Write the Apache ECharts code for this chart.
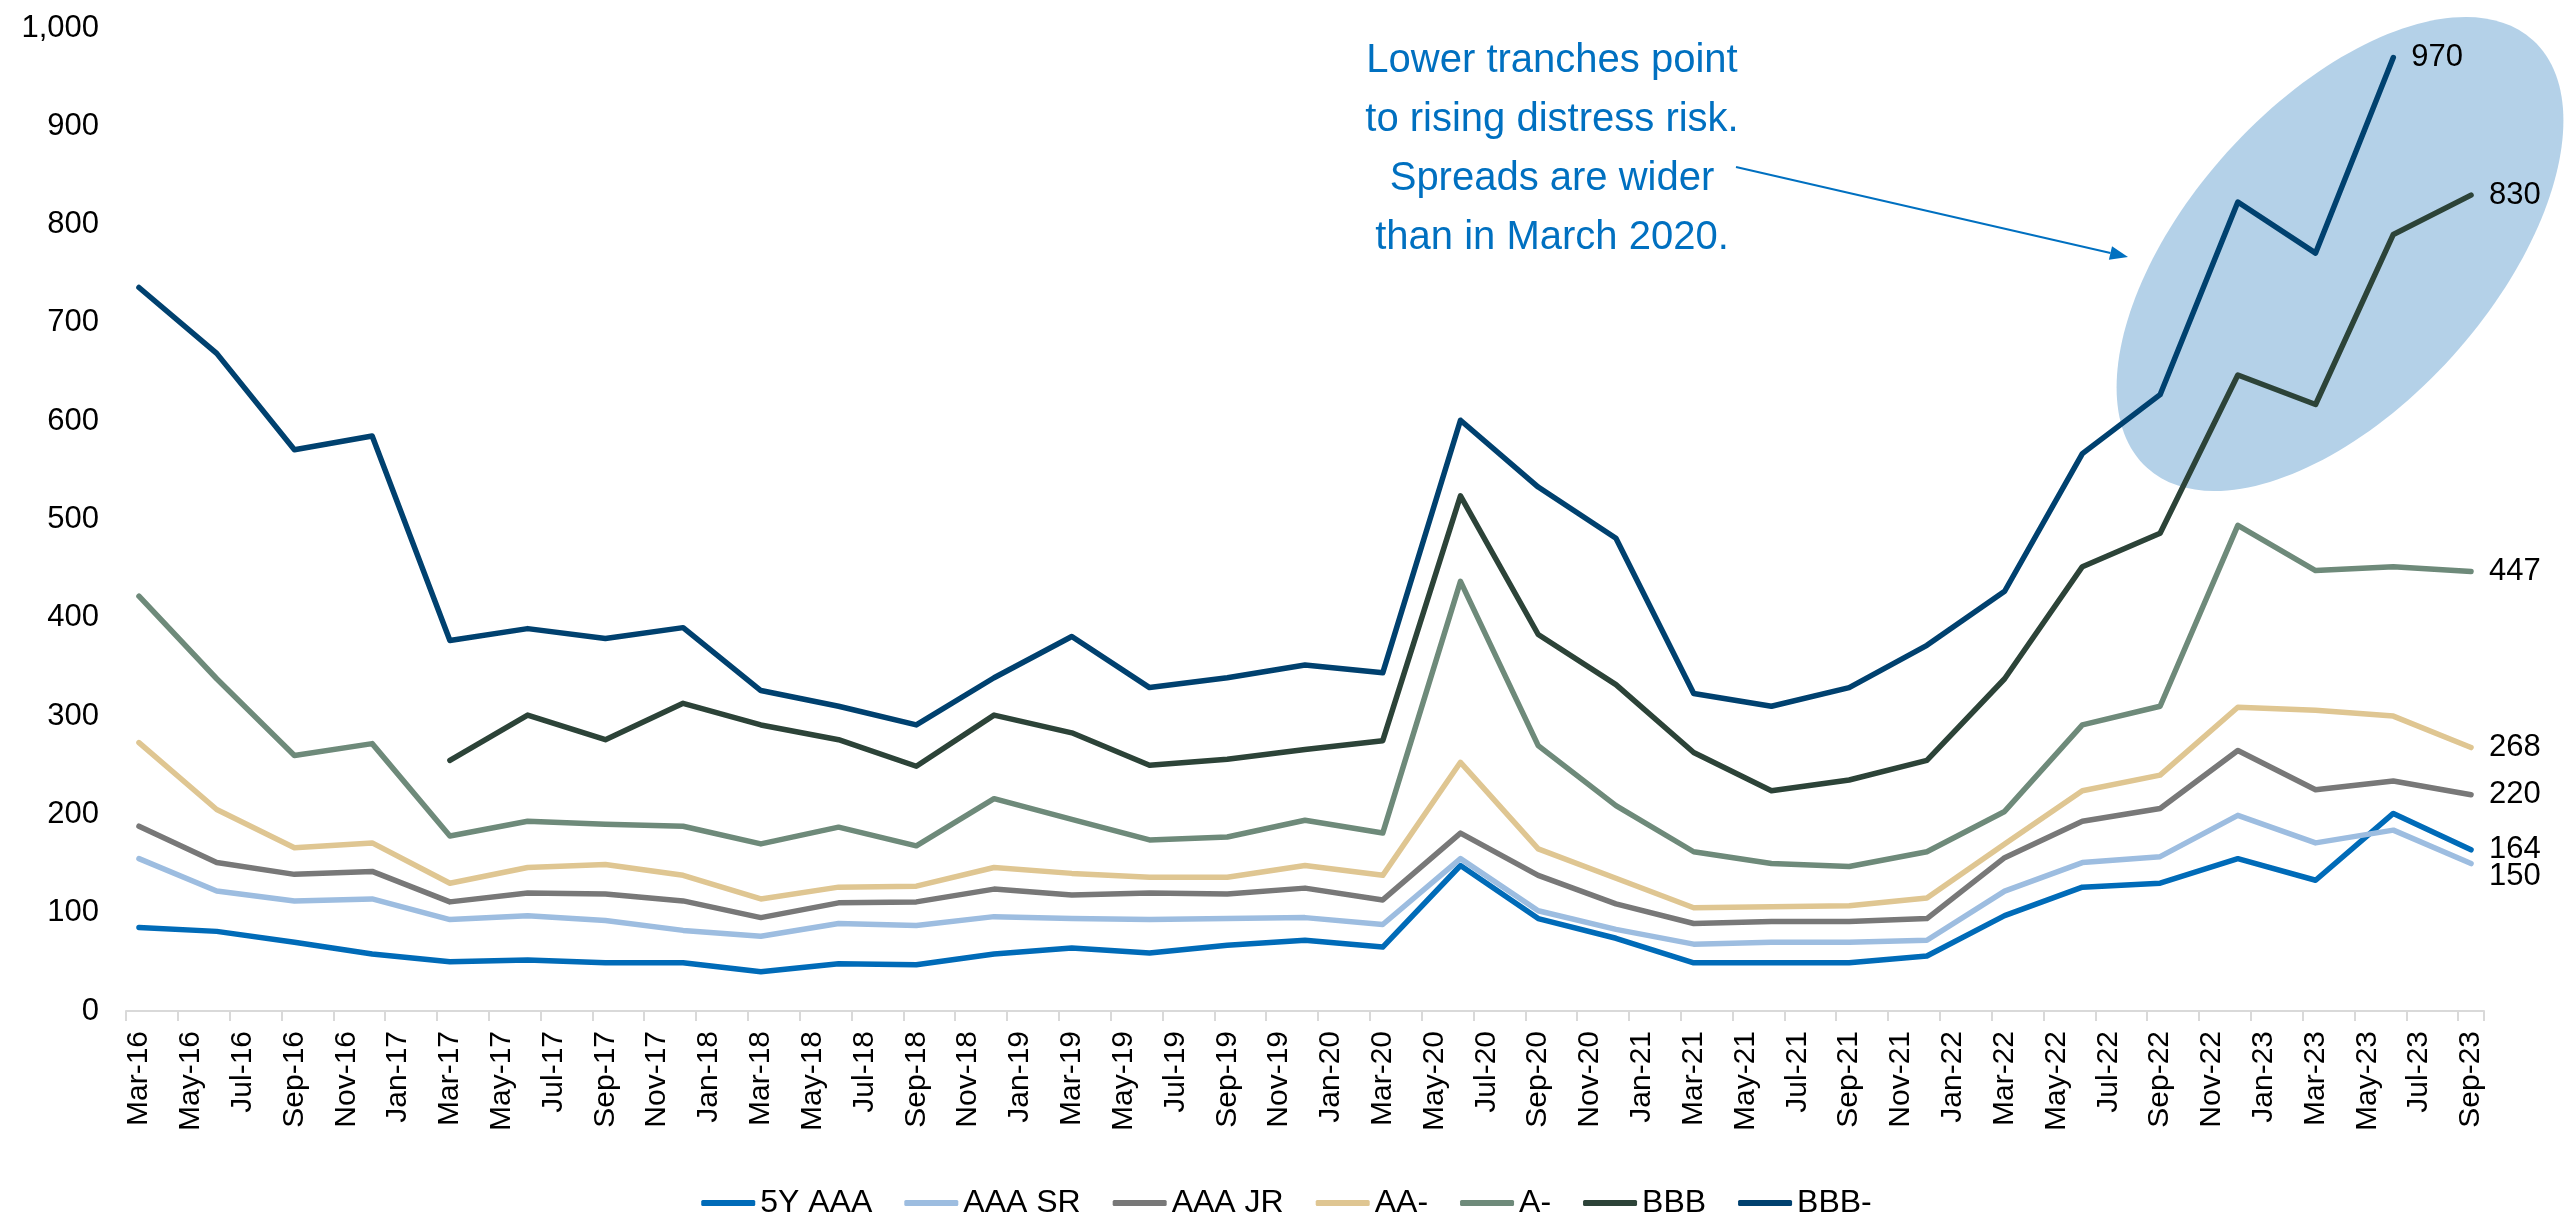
<!DOCTYPE html>
<html>
<head>
<meta charset="utf-8">
<title>CLO spreads by tranche</title>
<script src="https://cdn.jsdelivr.net/npm/echarts@6/dist/echarts.min.js"></script>
<style>
  html, body { margin: 0; padding: 0; background: #ffffff; }
  #chart { width: 2573px; height: 1215px; }
</style>
</head>
<body>
<div id="chart"></div>
<script>
// Monthly axis categories, Mar-16 .. Sep-23 (labels every second month)
const monthNames = ['Jan','Feb','Mar','Apr','May','Jun','Jul','Aug','Sep','Oct','Nov','Dec'];
const months = [];
for (let y = 2016, m = 2; y < 2023 || (y === 2023 && m <= 8); m++) {
  if (m === 12) { m = 0; y++; }
  months.push(monthNames[m] + '-' + String(y).slice(2));
}

// Quarter-end observation dates
const quarters = [
  'Mar-16','Jun-16','Sep-16','Dec-16',
  'Mar-17','Jun-17','Sep-17','Dec-17',
  'Mar-18','Jun-18','Sep-18','Dec-18',
  'Mar-19','Jun-19','Sep-19','Dec-19',
  'Mar-20','Jun-20','Sep-20','Dec-20',
  'Mar-21','Jun-21','Sep-21','Dec-21',
  'Mar-22','Jun-22','Sep-22','Dec-22',
  'Mar-23','Jun-23','Sep-23'
];

// Spreads (bp) per tranche
const aaa5y  = [85, 81, 70, 58, 50, 52, 49, 49, 40, 48, 47, 58, 64, 59, 67, 72, 65, 148, 94, 74, 49, 49, 49, 56, 97, 126, 130, 155, 133, 201, 164];
const aaaSr  = [155, 122, 112, 114, 93, 97, 92, 82, 76, 89, 87, 96, 94, 93, 94, 95, 88, 155, 102, 83, 68, 70, 70, 72, 122, 151, 157, 199, 171, 184, 150];
const aaaJr  = [188, 151, 139, 142, 111, 120, 119, 112, 95, 110, 111, 124, 118, 120, 119, 125, 113, 181, 138, 109, 89, 91, 91, 94, 156, 193, 206, 265, 225, 234, 220];
const aaMinus = [273, 205, 166, 171, 130, 146, 149, 138, 114, 126, 127, 146, 140, 136, 136, 148, 138, 253, 165, 135, 105, 106, 107, 115, 170, 224, 240, 309, 306, 300, 268];
const aMinus = [422, 338, 260, 272, 178, 193, 190, 188, 170, 187, 168, 216, 195, 174, 177, 194, 181, 437, 270, 209, 162, 150, 147, 162, 203, 291, 310, 494, 448, 452, 447];
const bbb    = [null, null, null, null, 255, 301, 276, 313, 291, 276, 249, 301, 283, 250, 256, 266, 275, 524, 383, 332, 263, 224, 235, 255, 338, 452, 486, 647, 617, 790, 830];
const bbbMinus = [736, 669, 571, 585, 377, 389, 379, 390, 326, 310, 291, 339, 381, 329, 339, 352, 344, 601, 533, 481, 323, 310, 329, 372, 427, 567, 627, 823, 771, 970, null];

const seriesNames = ['5Y AAA', 'AAA SR', 'AAA JR', 'AA-', 'A-', 'BBB', 'BBB-'];
const seriesValues = [aaa5y, aaaSr, aaaJr, aaMinus, aMinus, bbb, bbbMinus];
const seriesColors = ['#006BB8', '#9DBDE0', '#787878', '#DFC692', '#6E8A7A', '#2C4338', '#00416F'];

// y-axis tick values
const yMin = 0, yMax = 1000, yStep = 100;

const annotation = 'Lower tranches point\nto rising distress risk.\nSpreads are wider\nthan in March 2020.';

const FONT = '"Liberation Sans", Arial, Helvetica, sans-serif';

function toPairs(vals) {
  const out = [];
  vals.forEach((v, i) => { if (v !== null) out.push([quarters[i], v]); });
  return out;
}

const series = seriesNames.map((name, k) => ({
  name: name,
  type: 'line',
  data: toPairs(seriesValues[k]),
  showSymbol: false,
  symbol: 'none',
  color: seriesColors[k],
  lineStyle: { width: 5.5, color: seriesColors[k], cap: 'round', join: 'round' },
  emphasis: { disabled: true },
  endLabel: {
    show: true,
    formatter: p => String(p.value[1]),
    color: '#000000',
    fontFamily: FONT,
    fontSize: 31,
    distance: 18,
    offset: name === 'AAA SR' ? [0, 13] : [0, 0]
  },
  z: 2 + k
}));

// Arrow from the note toward the highlighted tranches
const arrowFrom = [1736, 167];
const arrowTo = [2128, 257];
const ang = Math.atan2(arrowTo[1] - arrowFrom[1], arrowTo[0] - arrowFrom[0]);
const headLen = 18, headHalf = 7;
const baseX = arrowTo[0] - headLen * Math.cos(ang);
const baseY = arrowTo[1] - headLen * Math.sin(ang);
const headPts = [
  arrowTo,
  [baseX + headHalf * Math.sin(ang), baseY - headHalf * Math.cos(ang)],
  [baseX - headHalf * Math.sin(ang), baseY + headHalf * Math.cos(ang)]
];

const chart = echarts.init(document.getElementById('chart'), null, { renderer: 'canvas' });

chart.setOption({
  animation: false,
  backgroundColor: '#ffffff',
  textStyle: { fontFamily: FONT },
  grid: { left: 126, right: 89, top: 28, bottom: 204, containLabel: false },
  legend: {
    data: seriesNames,
    top: 1182,
    left: 'center',
    icon: 'roundRect',
    itemWidth: 54,
    itemHeight: 6,
    itemGap: 32,
    textStyle: { fontFamily: FONT, fontSize: 32, color: '#000000' },
    selectedMode: false
  },
  xAxis: {
    type: 'category',
    data: months,
    boundaryGap: true,
    axisLine: { show: true, lineStyle: { color: '#D9D9D9', width: 2 } },
    axisTick: { show: true, interval: 1, length: 10, lineStyle: { color: '#D9D9D9', width: 2 } },
    axisLabel: {
      interval: 1,
      rotate: 90,
      margin: 20,
      color: '#000000',
      fontFamily: FONT,
      fontSize: 30
    },
    splitLine: { show: false }
  },
  yAxis: {
    type: 'value',
    min: yMin,
    max: yMax,
    interval: yStep,
    axisLine: { show: false },
    axisTick: { show: false },
    splitLine: { show: false },
    axisLabel: {
      margin: 27,
      color: '#000000',
      fontFamily: FONT,
      fontSize: 31,
      formatter: v => v.toLocaleString('en-US')
    }
  },
  graphic: [
    {
      type: 'ellipse',
      x: 2340,
      y: 254,
      rotation: 48 * Math.PI / 180,
      shape: { cx: 0, cy: 0, rx: 288, ry: 152 },
      style: { fill: '#B4D1E8' },
      z: 0,
      silent: true
    },
    {
      type: 'text',
      x: 1552,
      y: 149,
      style: {
        text: annotation,
        fill: '#0070C0',
        font: '40px ' + FONT,
        fontSize: 40,
        fontFamily: FONT,
        lineHeight: 59,
        align: 'center',
        verticalAlign: 'middle'
      },
      z: 100,
      silent: true
    },
    {
      type: 'line',
      shape: { x1: arrowFrom[0], y1: arrowFrom[1], x2: baseX, y2: baseY },
      style: { stroke: '#0070C0', lineWidth: 2 },
      z: 100,
      silent: true
    },
    {
      type: 'polygon',
      shape: { points: headPts },
      style: { fill: '#0070C0' },
      z: 100,
      silent: true
    }
  ],
  series: series
});
</script>
</body>
</html>
